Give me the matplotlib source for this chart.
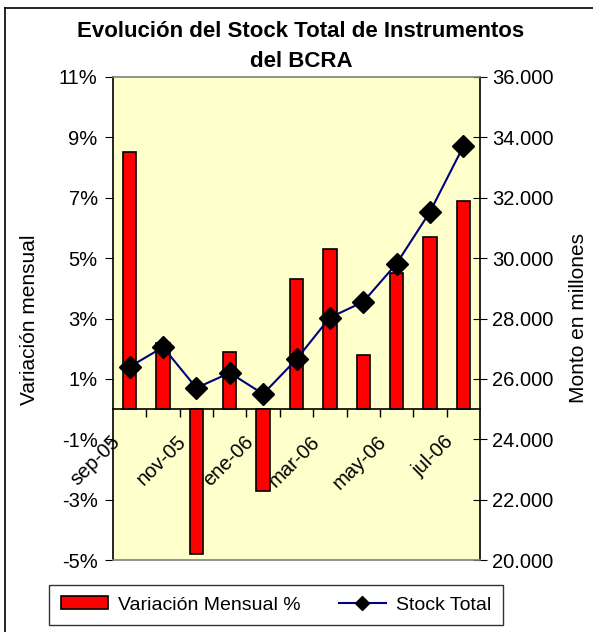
import numpy as np
import matplotlib
matplotlib.use('Agg')
import matplotlib.pyplot as plt
from matplotlib.lines import Line2D
from matplotlib.transforms import ScaledTranslation
from matplotlib.ticker import FuncFormatter

plt.rcParams['font.family'] = ['Liberation Sans', 'DejaVu Sans']

# Data
meses = ['sep-05', 'oct-05', 'nov-05', 'dic-05', 'ene-06', 'feb-06',
         'mar-06', 'abr-06', 'may-06', 'jun-06', 'jul-06']
variacion = [8.5, 2.2, -4.8, 1.9, -2.7, 4.3, 5.3, 1.8, 4.5, 5.7, 6.9]
stock = [26400, 27050, 25700, 26200, 25500, 26650, 28030, 28550, 29820, 31530, 33700]

x = np.arange(len(meses))

fig = plt.figure(figsize=(5.93, 6.32), dpi=100)
ax = fig.add_axes([113/593, 1 - 560/632, 367/593, (560 - 77)/632])
ax.set_facecolor('#FFFFCC')

# bars (left axis)
ax.bar(x, variacion, width=0.4, color='#FF0000', edgecolor='black', linewidth=1.2,
       label='Variación Mensual %', zorder=2)
ax.set_xlim(-0.5, len(meses) - 0.5)
ax.set_ylim(-5, 11)
ax.set_yticks(np.arange(-5, 12, 2))
ax.yaxis.set_major_formatter(FuncFormatter(lambda v, p: f'{v:.0f}%'))
ax.tick_params(axis='y', direction='out', length=6, labelsize=14.5, pad=5, color='black')

# x axis sits on zero
ax.spines['bottom'].set_position(('data', 0))
ax.spines['bottom'].set_linewidth(1.2)
ax.spines['left'].set_linewidth(1.2)
ax.spines['top'].set_visible(False)
ax.spines['right'].set_visible(False)
ax.set_xticks(x[::2])
ax.set_xticklabels(meses[::2], rotation=45, ha='right', va='top', fontsize=14.5)
ax.set_xticks(np.arange(-0.5, len(meses), 1)[1:-1], minor=True)
ax.tick_params(axis='x', which='major', length=0, pad=2)
ax.tick_params(axis='x', which='minor', direction='out', length=6, width=1)
off = ScaledTranslation(-6/100, -20/100, fig.dpi_scale_trans)
for lab in ax.get_xticklabels():
    lab.set_transform(lab.get_transform() + off)

# line (right axis)
ax2 = ax.twinx()
ax2.plot(x, stock, color='#000080', linewidth=1.5, marker='D', markersize=11,
         markerfacecolor='black', markeredgecolor='black', label='Stock Total', zorder=3)
ax2.set_ylim(20000, 36000)
ax2.set_yticks(np.arange(20000, 36001, 2000))
ax2.yaxis.set_major_formatter(FuncFormatter(lambda v, p: f'{v:,.0f}'.replace(',', '.')))
ax2.tick_params(axis='y', direction='inout', length=10, labelsize=14.5, pad=4)
ax2.spines['right'].set_linewidth(1.2)
ax2.spines['left'].set_visible(False)
for s in ['top', 'bottom']:
    ax2.spines[s].set_color('#808080')
    ax2.spines[s].set_linewidth(1.2)

# labels and title
fig.text(30/593, 1 - 320/632, 'Variación mensual', rotation=90, ha='center', va='center', fontsize=15)
fig.text(578/593, 1 - 318/632, 'Monto en millones', rotation=90, ha='center', va='center', fontsize=15)
fig.text(301/593, 1 - 37/632, 'Evolución del Stock Total de Instrumentos',
         ha='center', va='baseline', fontsize=16, fontweight='bold')
fig.text(301/593, 1 - 67/632, 'del BCRA', ha='center', va='baseline', fontsize=16, fontweight='bold')

# legend
h1, l1 = ax.get_legend_handles_labels()
h2, l2 = ax2.get_legend_handles_labels()
leg = fig.legend(h1 + h2, l1 + l2, loc='center', bbox_to_anchor=(276/593, 1 - 605/632),
                 ncol=2, fontsize=14, frameon=True, fancybox=False, edgecolor='black',
                 handlelength=2.45, handleheight=0.6, columnspacing=1.95, borderpad=0.6,
                 handletextpad=0.5)
leg.get_frame().set_linewidth(1)
for h in leg.legend_handles:
    if isinstance(h, Line2D):
        h.set_markersize(7)

# outer chart border
x0, y0 = 5/593, 1 - 8/632
fig.add_artist(Line2D([x0, x0], [0, y0], color='black', linewidth=1.2))
fig.add_artist(Line2D([x0, 1], [y0, y0], color='black', linewidth=1.2))

fig.savefig('out.png', dpi=100)
